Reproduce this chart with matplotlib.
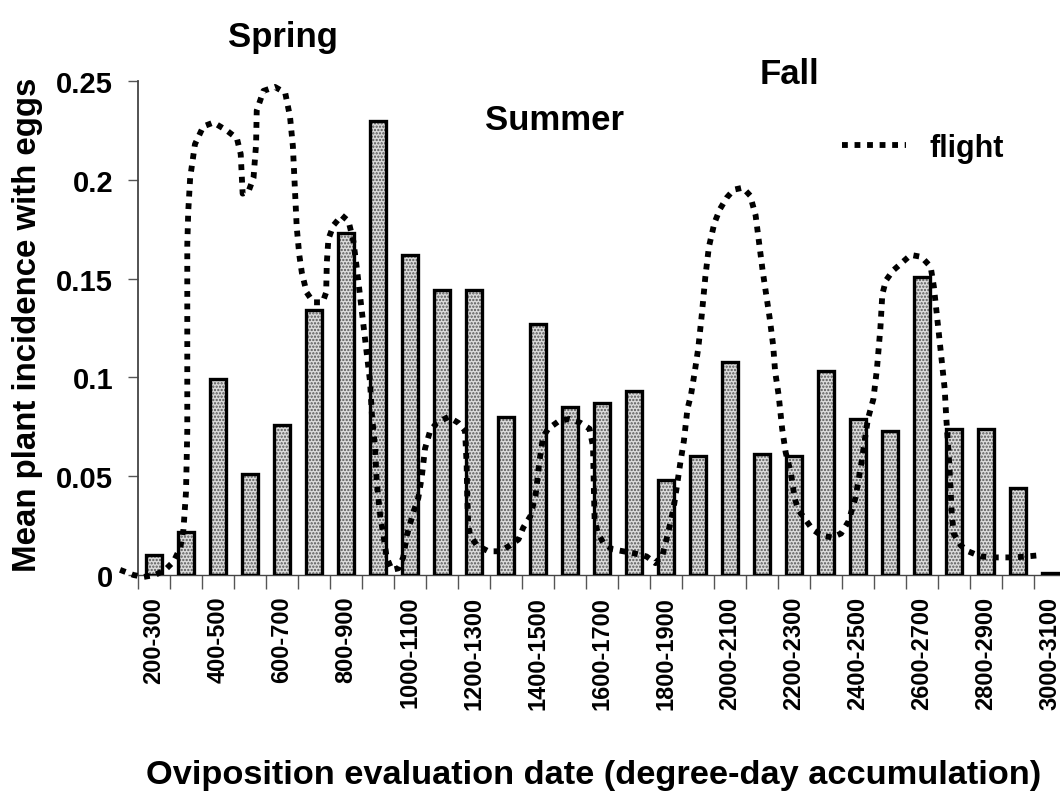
import numpy as np
import matplotlib
matplotlib.use("Agg")
import matplotlib.pyplot as plt

# ---------------- data ----------------
categories = ["200-300", "300-400", "400-500", "500-600", "600-700", "700-800",
              "800-900", "900-1000", "1000-1100", "1100-1200", "1200-1300",
              "1300-1400", "1400-1500", "1500-1600", "1600-1700", "1700-1800",
              "1800-1900", "1900-2000", "2000-2100", "2100-2200", "2200-2300",
              "2300-2400", "2400-2500", "2500-2600", "2600-2700", "2700-2800",
              "2800-2900", "2900-3000", "3000-3100"]
egg_incidence = [0.010, 0.022, 0.099, 0.051, 0.076, 0.134, 0.173, 0.230, 0.162,
                 0.144, 0.144, 0.080, 0.127, 0.085, 0.087, 0.093, 0.048, 0.060,
                 0.108, 0.061, 0.060, 0.103, 0.079, 0.073, 0.151, 0.074, 0.074,
                 0.044, 0.001]

# flight curve: degree-day position and relative value
flight_dd = [144, 186, 217, 253, 285, 311, 332, 342, 350, 354, 354, 354, 354, 357,
             363, 378, 404, 436, 477, 509, 521, 527, 545, 561, 569, 571, 592, 628,
             660, 675, 684, 691, 696, 704, 712, 727, 748, 777, 788, 790, 795, 811,
             837, 858, 873, 884, 894, 905, 915, 925, 931, 941, 946, 957, 967, 977,
             993, 1014, 1029, 1040, 1061, 1076, 1087, 1097, 1113, 1134, 1170, 1201,
             1222, 1227, 1229, 1232, 1238, 1259, 1295, 1332, 1363, 1389, 1404, 1427,
             1443, 1454, 1466, 1482, 1516, 1549, 1583, 1611, 1622, 1624, 1627, 1638,
             1655, 1683, 1717, 1750, 1789, 1817, 1839, 1856, 1873, 1884, 1895, 1906,
             1917, 1928, 1940, 1951, 1962, 1973, 1984, 2001, 2018, 2040, 2062, 2090,
             2113, 2130, 2141, 2152, 2163, 2174, 2185, 2191, 2202, 2213, 2224, 2241,
             2252, 2263, 2286, 2308, 2336, 2369, 2397, 2420, 2442, 2459, 2470, 2481,
             2498, 2509, 2520, 2526, 2537, 2559, 2587, 2615, 2648, 2677, 2687, 2699,
             2710, 2721, 2726, 2732, 2738, 2743, 2749, 2771, 2794, 2833, 2872, 2905,
             2939, 2978, 3011]
flight_val = [0.0026, 0.0, -0.001, 0.0, 0.0026, 0.0068, 0.0137, 0.023, 0.042, 0.073,
              0.107, 0.141, 0.167, 0.184, 0.201, 0.218, 0.227, 0.229, 0.225, 0.221,
              0.213, 0.193, 0.194, 0.201, 0.218, 0.235, 0.245, 0.247, 0.244, 0.232,
              0.217, 0.193, 0.176, 0.162, 0.153, 0.143, 0.138, 0.138, 0.143, 0.158,
              0.170, 0.177, 0.182, 0.179, 0.169, 0.155, 0.141, 0.126, 0.112, 0.098,
              0.081, 0.064, 0.047, 0.030, 0.020, 0.009, 0.0026, 0.0034, 0.009, 0.020,
              0.032, 0.039, 0.050, 0.064, 0.073, 0.077, 0.080, 0.077, 0.073, 0.056,
              0.039, 0.025, 0.020, 0.015, 0.012, 0.012, 0.015, 0.018, 0.024, 0.030,
              0.041, 0.057, 0.070, 0.074, 0.078, 0.079, 0.077, 0.074, 0.065, 0.048,
              0.027, 0.021, 0.016, 0.013, 0.012, 0.011, 0.0094, 0.006, 0.010, 0.021,
              0.033, 0.045, 0.057, 0.068, 0.084, 0.091, 0.103, 0.115, 0.132, 0.151,
              0.166, 0.178, 0.185, 0.191, 0.195, 0.196, 0.192, 0.182, 0.168, 0.154,
              0.142, 0.130, 0.116, 0.103, 0.091, 0.074, 0.062, 0.051, 0.039, 0.033,
              0.028, 0.023, 0.020, 0.019, 0.021, 0.027, 0.039, 0.055, 0.067, 0.079,
              0.089, 0.104, 0.125, 0.142, 0.149, 0.154, 0.158, 0.162, 0.161, 0.156,
              0.146, 0.128, 0.111, 0.094, 0.079, 0.065, 0.048, 0.031, 0.021, 0.015,
              0.012, 0.0094, 0.0089, 0.0089, 0.0089, 0.0094, 0.0099]

yticks = [0, 0.05, 0.1, 0.15, 0.2, 0.25]
ytick_labels = ["0", "0.05", "0.1", "0.15", "0.2", "0.25"]
season_labels = ["Spring", "Summer", "Fall"]
x_title = "Oviposition evaluation date (degree-day accumulation)"
y_title = "Mean plant incidence with eggs"

# ---------------- figure ----------------
plt.rcParams['font.family'] = ['Liberation Sans', 'DejaVu Sans']
plt.rcParams['font.weight'] = 'bold'
plt.rcParams['hatch.linewidth'] = 1.1

W, H = 1060, 804
fig = plt.figure(figsize=(W / 100, H / 100), dpi=100)
ax = fig.add_axes([138 / W, 1 - 576 / H, 928 / W, 494 / H])

x = np.arange(len(categories))
ax.bar(x, egg_incidence, width=0.48, color='#dcdcdc', edgecolor='#555555',
       hatch='.....', linewidth=0, zorder=2)
ax.bar(x, egg_incidence, width=0.48, fill=False, edgecolor='black',
       linewidth=2.4, zorder=3)

fx = (np.array(flight_dd) - 250) / 100.0
ax.plot(fx, flight_val, color='black', linewidth=4.2, linestyle=(0, (1.0, 1.15)),
        dash_capstyle='butt', zorder=4, clip_on=False, label='flight')

ax.set_xlim(-0.5, len(categories) - 0.5)
ax.set_ylim(0, 0.25)

for s in ['top', 'right']:
    ax.spines[s].set_visible(False)
ax.spines['left'].set_color('#444444')
ax.spines['left'].set_linewidth(1.3)
ax.spines['bottom'].set_color('#444444')
ax.spines['bottom'].set_linewidth(1.0)

ax.set_yticks(yticks)
ax.set_yticklabels(ytick_labels, fontsize=21, fontweight='bold')
ax.tick_params(axis='y', direction='out', length=7, width=1, color='#555555', pad=11)

ax.set_xticks(np.arange(-0.5, len(categories), 1.0))
ax.set_xticklabels([])
ax.tick_params(axis='x', which='major', direction='out', length=10, width=1,
               color='#555555')
ax.set_xticks(x[::2], minor=True)
ax.set_xticklabels(categories[::2], minor=True, rotation=90,
                   fontsize=17, fontweight='bold')
ax.tick_params(axis='x', which='minor', length=0, pad=15)

# season labels
fig.text(283 / W, 1 - 47 / H, season_labels[0], ha='center', va='baseline',
         fontsize=25, fontweight='bold')
fig.text(555 / W, 1 - 130 / H, season_labels[1], ha='center', va='baseline',
         fontsize=25, fontweight='bold')
fig.text(790 / W, 1 - 84 / H, season_labels[2], ha='center', va='baseline',
         fontsize=25, fontweight='bold')

# legend
leg = ax.legend(loc='center left', bbox_to_anchor=(842 / W, 1 - 149 / H),
                bbox_transform=fig.transFigure, frameon=False, borderpad=0,
                borderaxespad=0, handlelength=2.1, handletextpad=0.75,
                prop={'size': 22, 'weight': 'bold'})

# axis titles, fitted to the reference's extents
renderer = fig.canvas.get_renderer()
xt = fig.text(594 / W, 1 - 776 / H, x_title, ha='center', va='center',
              fontsize=20, fontweight='bold')
w = xt.get_window_extent(renderer).width
xt.set_fontsize(20 * 895 / w)
yt = fig.text(28 / W, 1 - 325 / H, y_title, ha='center', va='center',
              rotation=90, fontsize=20, fontweight='bold')
h = yt.get_window_extent(renderer).height
yt.set_fontsize(20 * 495 / h)

fig.savefig('out.png', dpi=100)
